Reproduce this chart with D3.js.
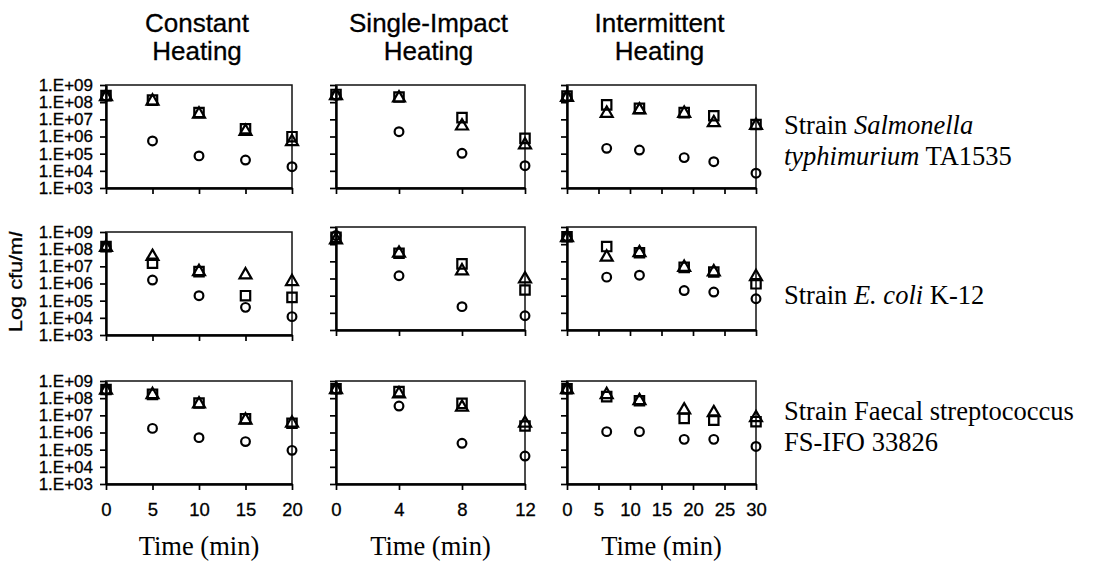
<!DOCTYPE html>
<html>
<head>
<meta charset="utf-8">
<script src="https://d3js.org/d3.v7.min.js"></script>
<style>
body { margin: 0; background: #fff; }
svg { display: block; }
</style>
</head>
<body>
<svg id="fig" width="1097" height="562"></svg>
<script>
const methodTitles = [["Constant", "Heating"], ["Single-Impact", "Heating"], ["Intermittent", "Heating"]];
const timesConstant = [0, 5, 10, 15, 20];
const timesSingle = [0, 4, 8, 12];
const timesIntermittent = [0, 6.3, 11.5, 18.6, 23.3, 30];
const xTicksConstant = [0, 5, 10, 15, 20];
const xTicksSingle = [0, 4, 8, 12];
const xTicksIntermittent = [0, 5, 10, 15, 20, 25, 30];
const yTicks = [1e3, 1e4, 1e5, 1e6, 1e7, 1e8, 1e9];
const shapes = ["circle", "square", "triangle"];

// log10 cfu/ml, rows: circle, square, triangle
const salConstant = [[8.35, 5.74, 4.87, 4.63, 4.24], [8.38, 8.12, 7.40, 6.45, 5.99], [8.32, 8.06, 7.30, 6.30, 5.70]];
const salSingle = [[8.40, 6.28, 5.02, 4.30], [8.45, 8.30, 7.10, 5.89], [8.38, 8.24, 6.61, 5.51]];
const salIntermittent = [[8.30, 5.31, 5.21, 4.77, 4.53, 3.86], [8.35, 7.84, 7.64, 7.39, 7.21, 6.70], [8.28, 7.35, 7.54, 7.35, 6.80, 6.64]];

const coliConstant = [[8.15, 6.20, 5.29, 4.61, 4.07], [8.15, 7.18, 6.69, 5.29, 5.19], [8.10, 7.57, 6.69, 6.50, 6.11]];
const coliSingle = [[8.50, 6.16, 4.36, 3.83], [8.40, 7.47, 6.85, 5.33], [8.25, 7.47, 6.44, 5.97]];
const coliIntermittent = [[8.45, 6.08, 6.19, 5.30, 5.21, 4.82], [8.43, 7.86, 7.50, 6.65, 6.38, 5.69], [8.38, 7.24, 7.50, 6.65, 6.38, 6.11]];

const faecConstant = [[8.48, 6.24, 5.70, 5.47, 4.96], [8.50, 8.22, 7.72, 6.80, 6.54], [8.46, 8.20, 7.66, 6.72, 6.54]];
const faecSingle = [[8.52, 7.54, 5.37, 4.63], [8.55, 8.38, 7.70, 6.38], [8.50, 8.25, 7.47, 6.54]];
const faecIntermittent = [[8.52, 6.05, 6.05, 5.60, 5.60, 5.19], [8.55, 8.09, 7.85, 6.82, 6.72, 6.63], [8.50, 8.20, 7.85, 7.31, 7.15, 6.86]];

const strainLabels = [
	[[{t: "Strain "}, {t: "Salmonella", i: true}], [{t: "typhimurium", i: true}, {t: " TA1535"}]],
	[[{t: "Strain "}, {t: "E. coli", i: true}, {t: " K-12"}]],
	[[{t: "Strain Faecal streptococcus"}], [{t: "FS-IFO 33826"}]]
];

const svg = d3.select("#fig");
const sans = "'Liberation Sans', Arial, Helvetica, sans-serif";
const serif = "'Liberation Serif', 'Times New Roman', serif";

var colX = [[106, 292], [336, 525], [567, 756]];
var rowY = [[85, 188], [227, 330], [381, 484]];
var labelY = [[134, 165], [304], [420, 451]];

var cols = [
	{times: timesConstant, ticks: xTicksConstant, max: 20},
	{times: timesSingle, ticks: xTicksSingle, max: 12},
	{times: timesIntermittent, ticks: xTicksIntermittent, max: 30}
];
var grid = [
	[salConstant, salSingle, salIntermittent],
	[coliConstant, coliSingle, coliIntermittent],
	[faecConstant, faecSingle, faecIntermittent]
];

var symbolType = {circle: d3.symbolCircle, square: d3.symbolSquare, triangle: d3.symbolTriangle};
var symbolSize = {circle: 60, square: 88, triangle: 62};

function yFmt(d) {
	return "1.E+" + String(Math.round(Math.log10(d))).padStart(2, "0");
}

grid.forEach(function(row, r) {
	row.forEach(function(vals, c) {
		let top = rowY[r][0], bottom = rowY[r][1];
		if (r == 1 && c == 0) { top += 5; bottom += 5; } // scanned panel sits a bit lower
		let x = d3.scaleLinear().domain([0, cols[c].max]).range(colX[c]);
		let y = d3.scaleLog().domain([1e3, 1e9]).range([bottom, top]);
		let g = svg.append("g").attr("class", "panel");

		g.append("rect")
			.attr("x", colX[c][0]).attr("y", top)
			.attr("width", colX[c][1] - colX[c][0]).attr("height", bottom - top)
			.attr("fill", "none").attr("stroke", "#111").attr("stroke-width", 1.5);

		let ya = g.append("g")
			.attr("transform", "translate(" + colX[c][0] + ",0)")
			.call(d3.axisLeft(y).tickValues(yTicks).tickSize(6).tickSizeOuter(0).tickPadding(7)
				.tickFormat(c == 0 ? yFmt : ""));
		let xa = g.append("g")
			.attr("transform", "translate(0," + bottom + ")")
			.call(d3.axisBottom(x).tickValues(cols[c].ticks).tickSize(6).tickSizeOuter(0).tickPadding(13)
				.tickFormat(r == 2 ? d3.format("d") : ""));

		[ya, xa].forEach(function(a) {
			a.attr("font-family", sans).attr("fill", "#000");
			a.select(".domain").attr("stroke", "#000").attr("stroke-width", 2.4);
			a.selectAll(".tick line").attr("stroke", "#000").attr("stroke-width", 1.7);
			a.selectAll(".tick text").attr("fill", "#000")
				.attr("stroke", "#000").attr("stroke-width", 0.3);
		});
		ya.attr("font-size", 17);
		xa.attr("font-size", 18.5);

		shapes.forEach(function(s, k) {
			g.selectAll(".m-" + s)
				.data(vals[k])
				.enter()
				.append("path")
				.attr("class", "m-" + s)
				.attr("d", d3.symbol().type(symbolType[s]).size(symbolSize[s]))
				.attr("transform", function(d, i) {
					return "translate(" + x(cols[c].times[i]) + "," + y(Math.pow(10, d)) + ")";
				})
				.attr("fill", "none")
				.attr("stroke", "#000")
				.attr("stroke-width", 2.2);
		});
	});
});

// column titles
methodTitles.forEach(function(lines, c) {
	let cx = (colX[c][0] + colX[c][1]) / 2 - 2;
	lines.forEach(function(line, j) {
		svg.append("text")
			.attr("x", cx).attr("y", 32 + j * 28)
			.attr("text-anchor", "middle")
			.attr("font-family", sans).attr("font-size", 26)
			.attr("stroke", "#000").attr("stroke-width", 0.3)
			.text(line);
	});
	svg.append("text")
		.attr("x", cx + 2).attr("y", 555)
		.attr("text-anchor", "middle")
		.attr("font-family", serif).attr("font-size", 26.5)
		.text("Time (min)");
});

// strain labels
strainLabels.forEach(function(lines, r) {
	lines.forEach(function(parts, j) {
		let t = svg.append("text")
			.attr("x", 784).attr("y", labelY[r][j])
			.attr("font-family", serif).attr("font-size", 26.5);
		parts.forEach(function(p) {
			t.append("tspan").attr("font-style", p.i ? "italic" : "normal").text(p.t);
		});
	});
});

// y label
var yl = svg.append("text")
	.attr("transform", "translate(22,282) rotate(-90)")
	.attr("text-anchor", "middle")
	.attr("font-family", sans).attr("font-size", 18)
	.attr("stroke", "#000").attr("stroke-width", 0.3)
	.attr("textLength", 100).attr("lengthAdjust", "spacingAndGlyphs");
yl.append("tspan").text("Log cfu/m");
yl.append("tspan").attr("font-style", "italic").text("l");
</script>
</body>
</html>
